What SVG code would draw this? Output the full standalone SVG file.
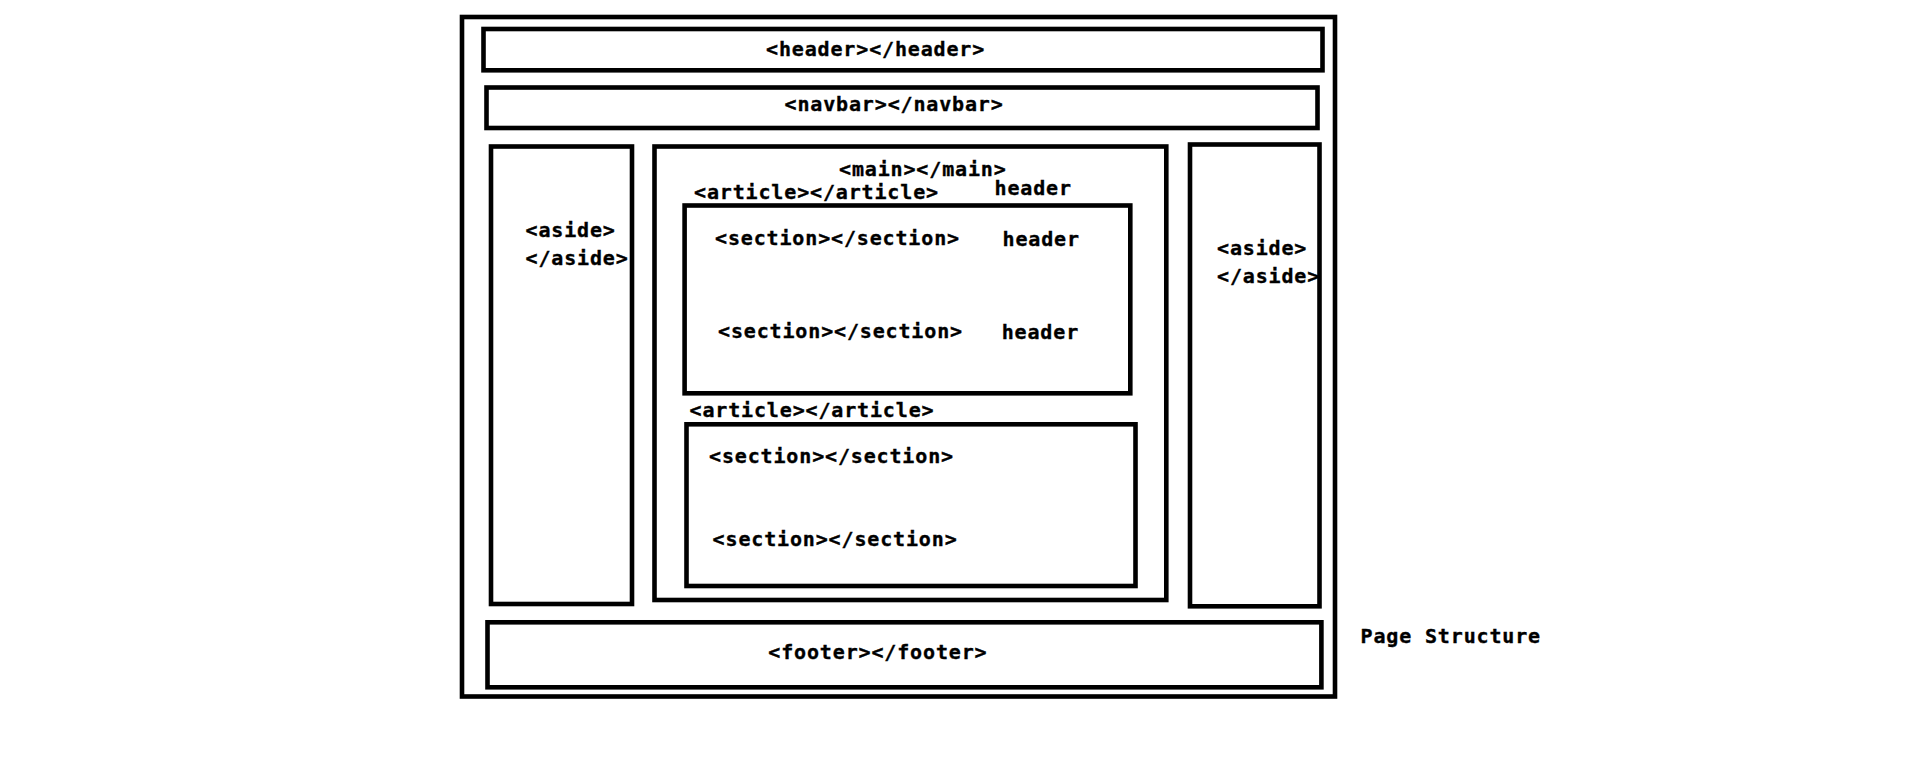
<svg xmlns="http://www.w3.org/2000/svg" width="1906" height="761" viewBox="0 0 1906 761">
<style>
.box{fill:none;stroke:#000;stroke-width:4.6}
.t{font-family:"DejaVu Sans Mono","Liberation Mono",monospace;font-weight:bold;font-size:20px;letter-spacing:0.85px;fill:#000;stroke:#000;stroke-width:0.35px}
</style>
<rect width="1906" height="761" fill="#fff"/>
<g id="page"><rect class="box" x="462" y="17" width="873" height="679.5"/></g>
<g id="header"><rect class="box" x="483.5" y="29" width="839" height="41.3"/><text class="t" x="766" y="55.5">&lt;header&gt;&lt;/header&gt;</text></g>
<g id="navbar"><rect class="box" x="486.5" y="87.5" width="831" height="40.5"/><text class="t" x="784.5" y="111">&lt;navbar&gt;&lt;/navbar&gt;</text></g>
<g id="aside-left"><rect class="box" x="491" y="146.5" width="141" height="457.5"/><text class="t" x="525.5" y="236.5">&lt;aside&gt;</text><text class="t" x="525.5" y="265">&lt;/aside&gt;</text></g>
<g id="main"><rect class="box" x="654.5" y="146.5" width="511.8" height="453.5"/><text class="t" x="839" y="175.5">&lt;main&gt;&lt;/main&gt;</text><text class="t" x="994.5" y="195">header</text></g>
<g id="article1"><rect class="box" x="684.6" y="205.5" width="445.7" height="187.8"/><text class="t" x="694" y="199">&lt;article&gt;&lt;/article&gt;</text>
<text class="t" x="715" y="245">&lt;section&gt;&lt;/section&gt;</text><text class="t" x="1002.5" y="246">header</text>
<text class="t" x="718" y="337.5">&lt;section&gt;&lt;/section&gt;</text><text class="t" x="1001.7" y="338.5">header</text></g>
<g id="article2"><rect class="box" x="686.5" y="424.3" width="449" height="161.7"/><text class="t" x="689.5" y="416.7">&lt;article&gt;&lt;/article&gt;</text>
<text class="t" x="709" y="463">&lt;section&gt;&lt;/section&gt;</text>
<text class="t" x="712.6" y="546">&lt;section&gt;&lt;/section&gt;</text></g>
<g id="aside-right"><rect class="box" x="1190" y="144.5" width="129.5" height="461.8"/><text class="t" x="1217" y="255">&lt;aside&gt;</text><text class="t" x="1217" y="283">&lt;/aside&gt;</text></g>
<g id="footer"><rect class="box" x="487.5" y="622.3" width="833.9" height="65"/><text class="t" x="768.3" y="658.5">&lt;footer&gt;&lt;/footer&gt;</text></g>
<g id="title"><text class="t" x="1360.5" y="643.3">Page Structure</text></g>
<g id="connectors"></g>
</svg>
